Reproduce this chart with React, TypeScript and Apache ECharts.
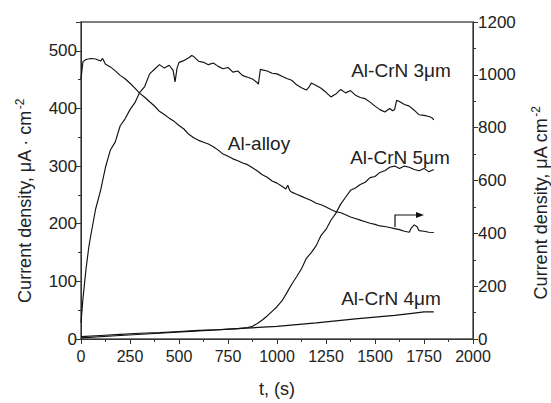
import React, { useEffect, useRef } from "react";
import * as echarts from "echarts";

// Al-CrN 3µm (left axis, µA·cm^-2)
const t3 = [0, 10, 25, 40, 50, 75, 100, 125, 150, 175, 200, 225, 250, 275, 300, 325, 350, 375, 400, 425, 450, 470, 480, 490, 500, 525, 550, 565, 575, 600, 625, 650, 675, 700, 725, 750, 775, 800, 825, 850, 875, 895, 905, 915, 925, 950, 975, 1000, 1025, 1050, 1075, 1100, 1125, 1150, 1165, 1175, 1200, 1225, 1250, 1275, 1300, 1325, 1350, 1375, 1400, 1425, 1450, 1475, 1500, 1525, 1550, 1575, 1590, 1600, 1610, 1625, 1650, 1675, 1700, 1725, 1750, 1775, 1790, 1800];
const v3 = [28, 70, 120, 160, 180, 226, 258, 298, 328, 342, 370, 382, 398, 410, 428, 438, 460, 468, 476, 470, 475, 466, 446, 470, 480, 483, 488, 492, 490, 482, 480, 476, 479, 473, 469, 471, 463, 465, 457, 454, 451, 446, 442, 468, 467, 465, 461, 460, 456, 452, 449, 441, 436, 432, 438, 444, 440, 435, 428, 420, 425, 433, 427, 431, 423, 419, 417, 411, 404, 398, 394, 400, 396, 398, 414, 412, 407, 404, 397, 389, 388, 386, 384, 380];

// Al-alloy (right axis, µA cm^-2)
const tAlloy = [0, 10, 25, 50, 75, 100, 110, 125, 150, 175, 200, 225, 250, 275, 300, 325, 350, 375, 400, 425, 450, 475, 500, 525, 550, 575, 600, 625, 650, 675, 700, 725, 750, 775, 800, 825, 850, 875, 900, 925, 950, 975, 1000, 1025, 1045, 1055, 1065, 1075, 1100, 1125, 1150, 1175, 1200, 1225, 1250, 1275, 1300, 1325, 1350, 1375, 1400, 1425, 1450, 1475, 1500, 1525, 1550, 1575, 1600, 1625, 1650, 1675, 1685, 1700, 1715, 1725, 1750, 1775, 1800];
const vAlloy = [985, 1050, 1058, 1062, 1060, 1052, 1062, 1040, 1030, 1015, 998, 985, 968, 950, 930, 915, 898, 882, 862, 850, 836, 824, 808, 795, 775, 762, 752, 745, 738, 728, 715, 700, 692, 682, 675, 666, 660, 648, 636, 622, 612, 598, 590, 578, 568, 582, 562, 556, 548, 540, 532, 524, 514, 508, 500, 490, 482, 478, 470, 462, 456, 450, 444, 438, 434, 428, 426, 422, 418, 414, 408, 404, 420, 432, 425, 410, 408, 404, 403];

// Al-CrN 5µm (left axis)
const t5 = [0, 100, 200, 300, 400, 500, 600, 700, 800, 850, 875, 900, 925, 950, 975, 1000, 1025, 1050, 1075, 1100, 1125, 1150, 1175, 1200, 1225, 1250, 1275, 1300, 1325, 1350, 1375, 1400, 1425, 1450, 1475, 1500, 1525, 1550, 1575, 1600, 1625, 1650, 1675, 1700, 1725, 1750, 1775, 1800];
const v5 = [4, 6, 8, 10, 11, 13, 15, 16, 18, 20, 22, 27, 33, 40, 48, 56, 66, 80, 95, 108, 122, 140, 150, 162, 180, 190, 206, 218, 234, 246, 258, 262, 268, 272, 280, 282, 289, 292, 298, 300, 296, 300, 298, 294, 292, 296, 290, 294];

// Al-CrN 4µm (left axis)
const t4 = [0, 200, 400, 600, 800, 1000, 1200, 1400, 1500, 1600, 1700, 1750, 1800];
const v4 = [2, 6, 10, 14, 18, 22, 28, 35, 38, 41, 45, 47, 47];

const xTicks = { min: 0, max: 2000, interval: 250 };
const leftTicks = { min: 0, max: 550, interval: 100 };
const rightTicks = { min: 0, max: 1200, interval: 200 };

const zip = (t: number[], v: number[]) => t.map((x, i) => [x, v[i]]);

const FONT = "'Liberation Sans', Arial, sans-serif";
const AXIS = "#333";
const TXT = "#222";

const titleRich = {
  a: { fontSize: 18, fill: TXT, fontFamily: FONT },
  s: { fontSize: 12, fill: TXT, fontFamily: FONT, verticalAlign: "top", padding: [0, 0, 10, 1] },
};

export default function App() {
  const ref = useRef<HTMLDivElement>(null);
  useEffect(() => {
    if (!ref.current) return;
    const chart = echarts.init(ref.current, null, { renderer: "svg" });
    const line = (name: string, data: number[][], yIdx: number) => ({
      name,
      type: "line",
      yAxisIndex: yIdx,
      data,
      showSymbol: false,
      symbol: "none",
      lineStyle: { color: "#111", width: 1.15 },
      z: 3,
    });
    const tickCommon = {
      axisLine: { show: true, lineStyle: { color: AXIS, width: 1 } },
      axisTick: { show: true, inside: false, length: 5, lineStyle: { color: AXIS } },
      minorTick: { show: true, splitNumber: 2, length: 3, lineStyle: { color: AXIS } },
      splitLine: { show: false },
      minorSplitLine: { show: false },
    };
    const fmt = (v: number) => String(v);
    chart.setOption({
      animation: false,
      textStyle: { fontFamily: FONT },
      grid: { left: 81, right: 78, top: 22, bottom: 59, show: true, borderColor: "#555", borderWidth: 1.5, backgroundColor: "transparent" },
      xAxis: {
        type: "value",
        ...xTicks,
        ...tickCommon,
        axisLabel: { fontSize: 16, color: TXT, margin: 9, fontFamily: FONT, formatter: fmt },
        name: "t, (s)",
        nameLocation: "middle",
        nameGap: 41,
        nameTextStyle: { fontSize: 18, color: TXT, fontFamily: FONT },
      },
      yAxis: [
        {
          type: "value",
          position: "left",
          ...leftTicks,
          ...tickCommon,
          axisLabel: { fontSize: 17, color: TXT, margin: 4, fontFamily: FONT, showMaxLabel: false, formatter: fmt },
        },
        {
          type: "value",
          position: "right",
          ...rightTicks,
          ...tickCommon,
          axisLabel: { fontSize: 17, color: TXT, margin: 5, fontFamily: FONT, formatter: fmt },
        },
      ],
      series: [
        line("Al-CrN 4μm", zip(t4, v4), 0),
        line("Al-CrN 5μm", zip(t5, v5), 0),
        line("Al-alloy", zip(tAlloy, vAlloy), 1),
        line("Al-CrN 3μm", zip(t3, v3), 0),
      ],
      graphic: [
        {
          type: "text", x: 25, y: 201, rotation: Math.PI / 2,
          style: { text: "{a|Current density, μA · cm}{s|-2}", rich: titleRich, align: "center", verticalAlign: "middle" },
        },
        {
          type: "text", x: 541, y: 203, rotation: Math.PI / 2,
          style: { text: "{a|Current density, μA cm}{s|-2}", rich: titleRich, align: "center", verticalAlign: "middle" },
        },
        { type: "text", x: 401, y: 70, style: { text: "Al-CrN 3μm", font: `19px ${FONT}`, fill: TXT, align: "center", verticalAlign: "middle" } },
        { type: "text", x: 259, y: 143, style: { text: "Al-alloy", font: `19px ${FONT}`, fill: TXT, align: "center", verticalAlign: "middle" } },
        { type: "text", x: 400, y: 157, style: { text: "Al-CrN 5μm", font: `19px ${FONT}`, fill: TXT, align: "center", verticalAlign: "middle" } },
        { type: "text", x: 391, y: 298, style: { text: "Al-CrN 4μm", font: `19px ${FONT}`, fill: TXT, align: "center", verticalAlign: "middle" } },
        { type: "polyline", shape: { points: [[395, 227], [395, 215], [418, 215]] }, style: { stroke: "#111", lineWidth: 1.2, fill: "none" } },
        { type: "polygon", shape: { points: [[424, 215], [416, 212], [416, 218]] }, style: { fill: "#111" } },
      ],
    });
    return () => chart.dispose();
  }, []);
  return <div ref={ref} style={{ position: "fixed", left: 0, top: 0, width: 551, height: 403, background: "#fff" }} />;
}
